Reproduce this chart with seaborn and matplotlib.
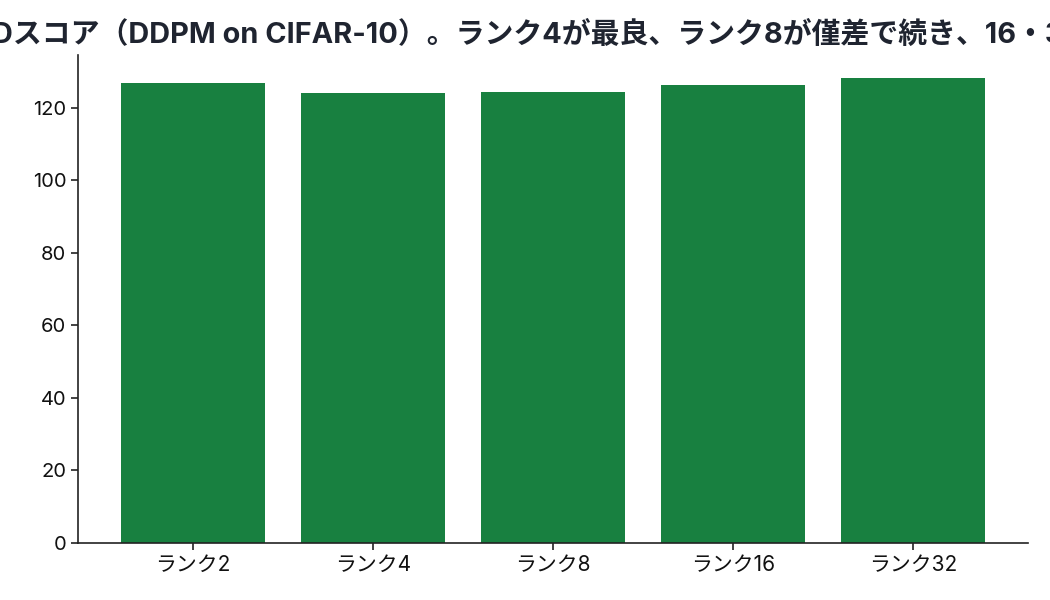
import matplotlib
matplotlib.use("Agg")
import matplotlib.pyplot as plt
import seaborn as sns
import pandas as pd

categories = ["ランク2", "ランク4", "ランク8", "ランク16", "ランク32"]
fid_scores = [127.0, 124.2, 124.3, 126.2, 128.2]
title_text = "FIDスコア（DDPM on CIFAR-10）。ランク4が最良、ランク8が僅差で続き、16・32の順"

sns.set_style("ticks")
plt.rcParams['font.family'] = ['Inter', 'Noto Sans CJK JP', 'DejaVu Sans']

df = pd.DataFrame({"rank": categories, "fid": fid_scores})

fig = plt.figure(figsize=(10.5, 6), dpi=100)
ax = fig.add_axes([78/1050, 1-543/600, 950/1050, 488/600])
sns.barplot(data=df, x="rank", y="fid", color="#188040", saturation=1, width=0.8,
            linewidth=0, ax=ax)

ax.set_xlim(-0.64, 4.64)
ax.set_xlabel("")
ax.set_ylabel("")
ax.set_yticks([0, 20, 40, 60, 80, 100, 120])
ax.tick_params(axis="y", labelsize=14.5, length=5, width=1.2, color="#222222", labelcolor="#111111")
ax.tick_params(axis="x", labelsize=15, length=5, width=1.2, color="#222222", labelcolor="#111111")
for s in ["left", "bottom"]:
    ax.spines[s].set_color("#222222")
    ax.spines[s].set_linewidth(1.2)
sns.despine(ax=ax)
ax.set_title(title_text, fontsize=20.8, fontweight="bold", color="#1f2430", pad=9)

fig.savefig("out.png", dpi=100)
